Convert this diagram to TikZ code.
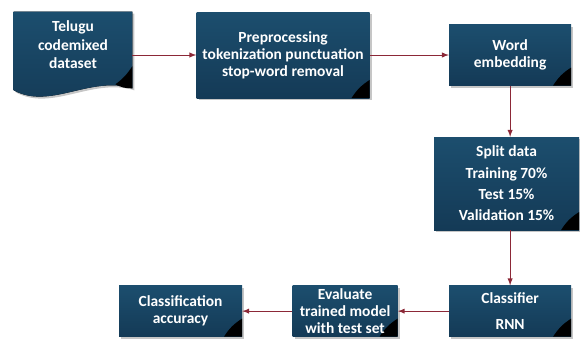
\documentclass[tikz,border=0pt]{standalone}
\usepackage{fontspec}
\setmainfont{Carlito}
\usetikzlibrary{shapes,arrows,positioning,calc,shadows,backgrounds}

\definecolor{boxtop}{RGB}{28,78,110}
\definecolor{boxbot}{RGB}{20,58,86}
\definecolor{linkred}{RGB}{140,40,55}

\begin{document}
\begin{tikzpicture}[
    node distance=1.3cm and 1.3cm,
    box/.style={rectangle, top color=boxtop, bottom color=boxbot, text=white, font=\bfseries\fontsize{11}{12.2}\selectfont, align=center, inner sep=0pt,
        drop shadow={opacity=0.45, shadow xshift=0.05cm, shadow yshift=-0.05cm},
        path picture={\fill[black] (path picture bounding box.south east) -- ++(-0.45,0) to[bend left=12] ($(path picture bounding box.south east)+(0,0.45)$) -- cycle;}},
    doc/.style={rectangle, text=white, font=\bfseries\fontsize{11}{12.2}\selectfont, align=center, inner sep=0pt, minimum width=2.95cm, minimum height=1.65cm},
    arrow/.style={->, >=latex, linkred, line width=0.7pt}
]
    \useasboundingbox (0,0) rectangle (14.5,-8.45);

    \node[doc] (tel) at (1.825,-1.125) {Telugu\\[1pt]codemixed\\[1pt]dataset};
    \node[box, minimum width=4.325cm, minimum height=2.15cm, right=1.6cm of tel.north east, anchor=north west] (pre) {Preprocessing\\tokenization punctuation\\stop-word removal};
    \node[box, minimum width=3.05cm, minimum height=1.525cm, right=1.975cm of pre] (word) {Word\\embedding};
    \node[box, minimum width=3.625cm, minimum height=2.325cm, below=1.275cm of word, xshift=-0.09cm] (split) {Split data\\[3pt]Training 70\%\\[3pt]Test 15\%\\[3pt]Validation 15\%};
    \node[box, minimum width=3.05cm, minimum height=1.275cm, below=1.375cm of split, xshift=0.09cm] (cls) {Classifier\\[6pt]RNN};
    \node[box, minimum width=2.625cm, minimum height=1.275cm, left=1.275cm of cls] (eval) {Evaluate\\trained model\\with test set};
    \node[box, minimum width=3.075cm, minimum height=1.275cm, left=1.25cm of eval] (acc) {Classification\\accuracy};

    % document shape behind the dataset text
    \begin{scope}[on background layer]
        \fill[top color=boxtop, bottom color=boxbot, drop shadow={opacity=0.45, shadow xshift=0.05cm, shadow yshift=-0.05cm}]
            (tel.north west) -- (tel.north east) -- ($(tel.south east)+(0,-0.25)$)
            .. controls +(-1.05,0.325) and +(0.9,-0.5) .. ($(tel.south west)+(0,-0.3)$) -- cycle;
        \fill[black] ($(tel.south east)+(0,0.3)$) -- ($(tel.south east)+(0,-0.25)$)
            to[bend left=15] ($(tel.south east)+(-0.42,-0.15)$) to[bend right=10] cycle;
    \end{scope}

    \draw[arrow] (pre.west -| tel.east) -- (pre.west);
    \draw[arrow] (pre) -- (word);
    \draw[arrow] (word.south) -- (word.south |- split.north);
    \draw[arrow] (cls.north |- split.south) -- (cls.north);
    \draw[arrow] (cls) -- (eval);
    \draw[arrow] (eval) -- (acc);
\end{tikzpicture}
\end{document}
